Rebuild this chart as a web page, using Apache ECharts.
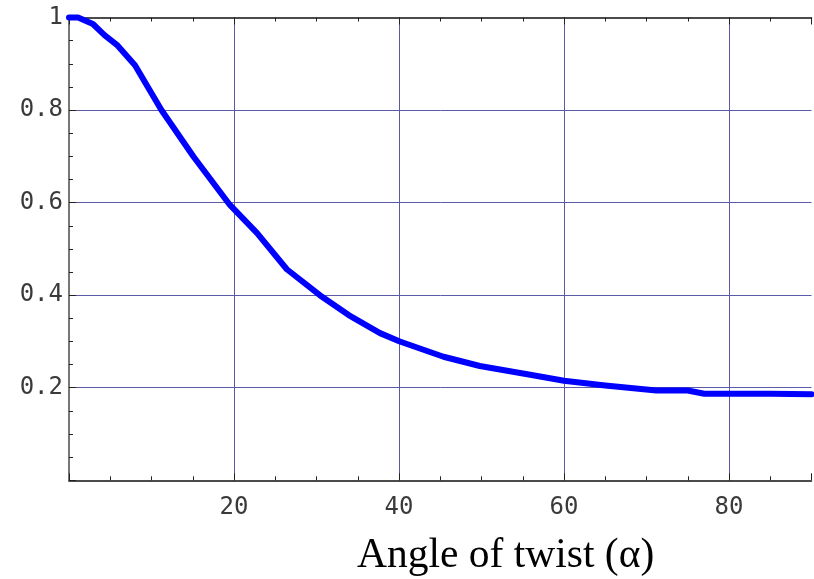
<!DOCTYPE html>
<html>
<head>
<meta charset="utf-8">
<script src="https://cdn.jsdelivr.net/npm/echarts@6/dist/echarts.min.js"></script>
<style>
  html, body { margin: 0; padding: 0; background: #fff; }
  #main { width: 814px; height: 579px; }
</style>
</head>
<body>
<div id="main"></div>
<script>
// angle of twist (deg) vs ratio
var twistAngle = [0, 1.1, 2.9, 4.3, 5.8, 8, 11.2, 15.1, 19.5, 22.8, 26.4, 30.4, 33.9, 37.7, 40.1, 45.4, 49.8, 55.9, 60, 65, 71.2, 75, 77, 85, 90];
var ratio = [1.0, 1.0, 0.986, 0.962, 0.941, 0.897, 0.8, 0.699, 0.595, 0.534, 0.456, 0.400, 0.357, 0.318, 0.300, 0.267, 0.247, 0.228, 0.215, 0.205, 0.194, 0.194, 0.187, 0.187, 0.186];
var xTicks = [20, 40, 60, 80];
var yTicks = [0.2, 0.4, 0.6, 0.8, 1];
var xTitle = 'Angle of twist (α)';

var data = [];
for (var i = 0; i < twistAngle.length; i++) {
    data.push([twistAngle[i], ratio[i]]);
}

var gridColor = '#5a5aa8';
var labelFont = {
    fontFamily: 'DejaVu Sans Mono',
    fontSize: 24,
    color: '#3a3a3a'
};

var myChart = echarts.init(document.getElementById('main'));
myChart.setOption({
    animation: false,
    title: {
        text: xTitle,
        left: 352,
        top: 530,
        textStyle: {
            fontFamily: 'Liberation Serif',
            fontWeight: 'normal',
            fontSize: 41.5,
            color: '#000'
        }
    },
    grid: {
        left: 69,
        right: 2.5,
        top: 17.5,
        bottom: 98.7
    },
    xAxis: [{
        type: 'value',
        min: 0,
        max: 90,
        interval: 20,
        axisLine: { lineStyle: { color: '#111', width: 1.5 } },
        axisTick: { inside: true, length: 7, lineStyle: { color: '#222' } },
        minorTick: { show: true, splitNumber: 4, length: 4, lineStyle: { color: '#222' } },
        axisLabel: Object.assign({
            margin: 15,
            showMinLabel: false,
            showMaxLabel: false,
            formatter: function (v) { return xTicks.indexOf(v) >= 0 ? String(v) : ''; }
        }, labelFont),
        splitLine: {
            show: true,
            showMinLine: false,
            showMaxLine: false,
            lineStyle: { color: gridColor, width: 1 }
        }
    }, {
        type: 'value',
        position: 'top',
        min: 0,
        max: 90,
        interval: 20,
        axisLine: { lineStyle: { color: '#111', width: 1.5 } },
        axisTick: { inside: true, length: 7, lineStyle: { color: '#222' } },
        minorTick: { show: true, splitNumber: 4, length: 4, lineStyle: { color: '#222' } },
        axisLabel: { show: false },
        splitLine: { show: false }
    }],
    yAxis: {
        type: 'value',
        min: 0,
        max: 1,
        interval: 0.2,
        axisLine: { show: true, lineStyle: { color: '#777', width: 2 } },
        axisTick: { show: true, inside: true, length: 7, lineStyle: { color: '#222' } },
        minorTick: { show: true, splitNumber: 4, length: 4, lineStyle: { color: '#222' } },
        axisLabel: Object.assign({
            margin: 6,
            showMinLabel: false,
            formatter: function (v) {
                for (var k = 0; k < yTicks.length; k++) {
                    if (Math.abs(yTicks[k] - v) < 1e-9) return String(yTicks[k]);
                }
                return '';
            }
        }, labelFont),
        splitLine: {
            show: true,
            showMinLine: false,
            showMaxLine: false,
            lineStyle: { color: gridColor, width: 1 }
        }
    },
    series: [{
        type: 'line',
        xAxisIndex: 0,
        data: data,
        showSymbol: false,
        clip: false,
        lineStyle: { color: '#0000ff', width: 6, cap: 'round', join: 'round' }
    }]
});
</script>
</body>
</html>
